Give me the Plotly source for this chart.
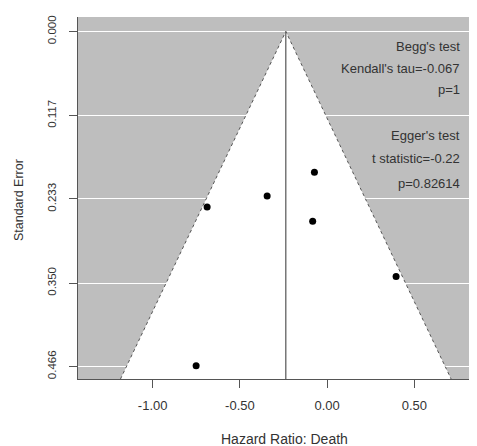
import plotly.graph_objects as go

# Study estimates (log hazard ratio) and standard errors
effects = [-0.688, -0.344, -0.073, -0.083, 0.395, -0.751]
std_errors = [0.244, 0.229, 0.196, 0.264, 0.341, 0.465]
pooled = -0.237
se_max = 0.4834
y_ticks = [0.0, 0.117, 0.233, 0.350, 0.466]
y_tick_text = ["0.000", "0.117", "0.233", "0.350", "0.466"]
x_ticks = [-1.0, -0.5, 0.0, 0.5]
x_tick_text = ["-1.00", "-0.50", "0.00", "0.50"]
stats_lines = ["Begg's test", "Kendall's tau=-0.067", "p=1",
               "Egger's test", "t statistic=-0.22", "p=0.82614"]
stats_y = [0.0209, 0.051, 0.0803, 0.1454, 0.1765, 0.2113]

FONT = "Liberation Sans, Arial, sans-serif"
TXT = "#333333"

fig = go.Figure()

# white funnel region
fig.add_trace(go.Scatter(
    x=[pooled - 1.96 * se_max, pooled, pooled + 1.96 * se_max],
    y=[se_max, 0, se_max],
    fill="toself", fillcolor="white", mode="lines",
    line=dict(color="#555555", width=1, dash="dot"),
    hoverinfo="skip", showlegend=False))

# center line
fig.add_trace(go.Scatter(
    x=[pooled, pooled], y=[0, se_max], mode="lines",
    line=dict(color="#555555", width=1.2),
    hoverinfo="skip", showlegend=False))

# study points
fig.add_trace(go.Scatter(
    x=effects, y=std_errors, mode="markers",
    marker=dict(color="black", size=7),
    showlegend=False))

for t, yy in zip(stats_lines, stats_y):
    fig.add_annotation(x=0.774, y=yy, xref="x", yref="y", text=t,
                       showarrow=False, xanchor="right", yanchor="middle",
                       font=dict(family=FONT, size=13, color=TXT))

fig.add_annotation(x=0.520, y=-0.166, xref="paper", yref="paper",
                   text="Hazard Ratio: Death", showarrow=False,
                   xanchor="center", yanchor="middle",
                   font=dict(family=FONT, size=14, color=TXT))
fig.add_annotation(x=-0.148, y=0.4945, xref="paper", yref="paper",
                   text="Standard Error", showarrow=False, textangle=-90,
                   xanchor="center", yanchor="middle",
                   font=dict(family=FONT, size=12.5, color=TXT))

fig.update_layout(
    width=469, height=438,
    margin=dict(l=70, r=1, t=9, b=67),
    paper_bgcolor="white", plot_bgcolor="#bebebe",
    font=dict(family=FONT, color=TXT),
    xaxis=dict(range=[-1.428, 0.853], tickvals=x_ticks, ticktext=x_tick_text,
               showgrid=False, zeroline=False, showline=True,
               linecolor="#555555", linewidth=1, ticks="outside", ticklen=8,
               tickcolor="#555555", tickfont=dict(size=13, color=TXT),
               ticklabelstandoff=6),
    yaxis=dict(range=[0.4834, -0.0201], tickvals=y_ticks, ticktext=y_tick_text,
               showgrid=True, gridcolor="white", gridwidth=1.2, zeroline=False,
               showline=True, linecolor="#555555", linewidth=1,
               ticks="outside", ticklen=8, tickcolor="#555555",
               tickangle=-90, tickfont=dict(size=11.5, color=TXT),
               ticklabelstandoff=8),
)

fig.write_html("out.html")
